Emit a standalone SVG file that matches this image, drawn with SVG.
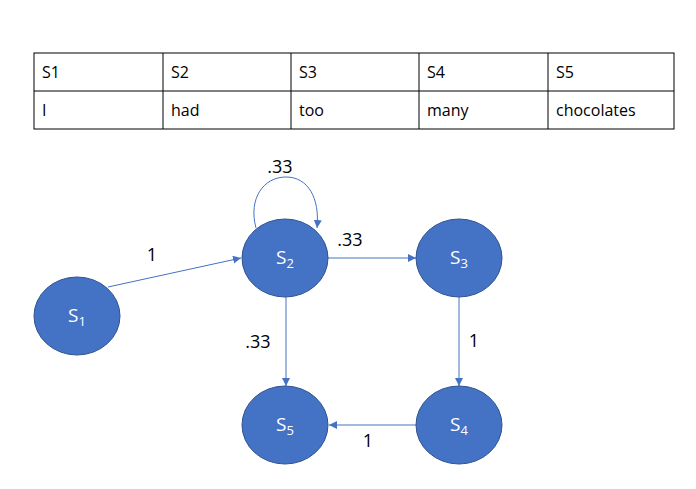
<svg xmlns="http://www.w3.org/2000/svg" width="696" height="489" viewBox="0 0 696 489">
<style>
.t{font-family:"Open Sans","Liberation Sans",sans-serif;font-size:16px;fill:#000}
.cell{fill:none;stroke:#000;stroke-width:1}
.node{fill:#4472C4;stroke:#2F528F;stroke-width:1}
.nl{font-family:"Open Sans","Liberation Sans",sans-serif;font-size:19px;fill:#fff}
.sub{font-size:13px}
.e{fill:none;stroke:#4472C4;stroke-width:1}
.el{font-family:"Open Sans","Liberation Sans",sans-serif;font-size:18px;fill:#000;text-anchor:middle}
</style>
<defs>
<marker id="ah" viewBox="0 0 10 10" refX="10" refY="5" markerWidth="8" markerHeight="8" markerUnits="userSpaceOnUse" orient="auto">
<path d="M0,0 L10,5 L0,10 z" fill="#4472C4"/>
</marker>
</defs>
<g id="table">
<rect class="cell" x="34" y="53" width="640" height="76"/>
<line class="cell" x1="34" y1="91" x2="674" y2="91"/>
<line class="cell" x1="163" y1="53" x2="163" y2="129"/>
<line class="cell" x1="291" y1="53" x2="291" y2="129"/>
<line class="cell" x1="419" y1="53" x2="419" y2="129"/>
<line class="cell" x1="548" y1="53" x2="548" y2="129"/>
<text class="t" x="42" y="78">S1</text>
<text class="t" x="171" y="78">S2</text>
<text class="t" x="299" y="78">S3</text>
<text class="t" x="427" y="78">S4</text>
<text class="t" x="556" y="78">S5</text>
<text class="t" x="42" y="116">I</text>
<text class="t" x="171" y="116">had</text>
<text class="t" x="299" y="116">too</text>
<text class="t" x="427" y="116">many</text>
<text class="t" x="556" y="116">chocolates</text>
</g>
<g id="connectors">
<line class="e" x1="108" y1="287" x2="241" y2="258" marker-end="url(#ah)"/>
<path class="e" d="M256,228 C248,198 264,177 286,177 C308,177 320,198 317,228" marker-end="url(#ah)"/>
<line class="e" x1="328" y1="258" x2="416" y2="258" marker-end="url(#ah)"/>
<line class="e" x1="286" y1="297" x2="286" y2="386" marker-end="url(#ah)"/>
<line class="e" x1="459" y1="297" x2="459" y2="386" marker-end="url(#ah)"/>
<line class="e" x1="416" y1="425" x2="329" y2="425" marker-end="url(#ah)"/>
<text class="el" x="152" y="261">1</text>
<text class="el" x="280" y="173">.33</text>
<text class="el" x="350" y="246">.33</text>
<text class="el" x="258" y="348">.33</text>
<text class="el" x="474" y="347">1</text>
<text class="el" x="368" y="447">1</text>
</g>
<g id="S1">
<ellipse class="node" cx="77" cy="316" rx="43" ry="39"/>
<text class="nl" x="77" y="322" text-anchor="middle">S<tspan class="sub" dy="4">1</tspan></text>
</g>
<g id="S2">
<ellipse class="node" cx="285" cy="258" rx="43" ry="39"/>
<text class="nl" x="285" y="264" text-anchor="middle">S<tspan class="sub" dy="4">2</tspan></text>
</g>
<g id="S3">
<ellipse class="node" cx="459" cy="258" rx="43" ry="39"/>
<text class="nl" x="459" y="264" text-anchor="middle">S<tspan class="sub" dy="4">3</tspan></text>
</g>
<g id="S4">
<ellipse class="node" cx="459" cy="425" rx="43" ry="39"/>
<text class="nl" x="459" y="431" text-anchor="middle">S<tspan class="sub" dy="4">4</tspan></text>
</g>
<g id="S5">
<ellipse class="node" cx="285" cy="425" rx="43" ry="39"/>
<text class="nl" x="285" y="431" text-anchor="middle">S<tspan class="sub" dy="4">5</tspan></text>
</g>
</svg>
